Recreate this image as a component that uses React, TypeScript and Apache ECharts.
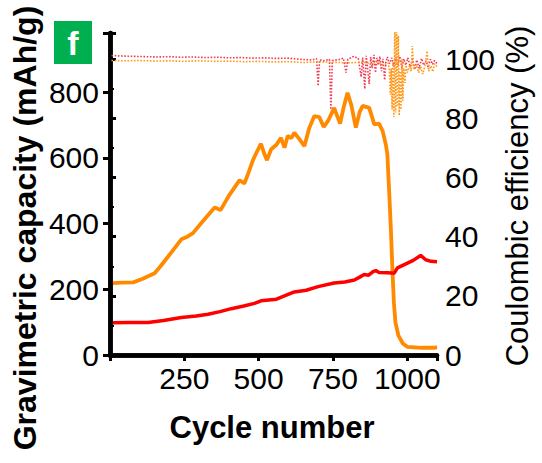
import React, { useEffect, useRef } from "react";
import * as echarts from "echarts";

// Capacity (mAh/g) vs cycle number
const orangeCap: [number, number][] = [
  [10, 219], [40, 220], [78, 221], [110, 232], [150, 249], [170, 270], [200, 305], [240, 352],
  [260, 360], [279, 371], [310, 405], [352, 449], [372, 441], [400, 485], [436, 532], [452, 522],
  [466, 555], [480, 591], [495, 620], [508, 643], [520, 610], [528, 593], [542, 626], [560, 640],
  [575, 661], [587, 631], [598, 667], [610, 660], [620, 677], [637, 657], [654, 636], [670, 690],
  [687, 727], [704, 724], [719, 694], [735, 715], [754, 752], [774, 704], [785, 750], [799, 798],
  [812, 760], [827, 692], [840, 740], [850, 758], [872, 752], [889, 702], [905, 704], [917, 682],
  [928, 640], [933, 611], [940, 480], [945, 380], [950, 260], [955, 160], [960, 100], [970, 60],
  [985, 35], [1000, 25], [1050, 22], [1090, 22], [1100, 24],
];

const redCap: [number, number][] = [
  [10, 98], [60, 99], [128, 99], [180, 105], [240, 114], [290, 119], [330, 124], [370, 132],
  [408, 141], [450, 149], [486, 157], [508, 165], [560, 170], [620, 192], [660, 197], [700, 208],
  [754, 219], [790, 222], [822, 228], [840, 237], [855, 245], [870, 243], [885, 254], [894, 257],
  [905, 251], [935, 250], [956, 249], [967, 265], [990, 275], [1020, 288], [1045, 303], [1062, 290],
  [1080, 285], [1100, 284],
];

// Coulombic efficiency (%) vs cycle number
const redCE: [number, number][] = [
  [5, 101.3], [40, 101.1], [80, 101.0], [120, 100.9], [160, 100.8], [200, 100.9], [240, 100.7],
  [280, 100.8], [320, 100.6], [360, 100.7], [400, 100.5], [440, 100.6], [480, 100.4], [520, 100.5],
  [560, 100.3], [600, 100.4], [640, 100.0], [680, 99.8], [695, 100.2], [700, 91.0], [705, 99.8],
  [720, 99.5], [738, 100.0], [743, 83.0], [748, 99.6], [770, 99.9], [785, 100.4], [794, 95.5],
  [800, 100.0], [820, 101.0], [835, 100.3], [845, 94.0], [850, 100.6], [857, 90.0], [862, 101.2],
  [867, 96.5], [872, 91.7], [877, 100.8], [882, 97.0], [888, 101.5], [893, 95.5], [898, 100.5],
  [903, 98.0], [908, 101.0], [913, 96.0], [918, 100.2], [924, 93.0], [928, 99.0], [933, 100.8],
  [940, 98.5], [948, 100.5], [955, 97.5], [962, 100.8], [968, 98.0], [975, 101.0], [982, 97.0],
  [988, 100.2], [995, 98.0], [1002, 100.5], [1010, 97.5], [1018, 100.0], [1025, 96.5], [1032, 99.8],
  [1040, 97.0], [1048, 100.3], [1055, 98.0], [1063, 99.5], [1070, 97.2], [1078, 100.0], [1085, 98.3],
  [1092, 99.6], [1100, 98.5],
];

const orangeCE: [number, number][] = [
  [5, 99.6], [50, 99.5], [100, 99.6], [150, 99.4], [200, 99.5], [250, 99.3], [300, 99.5], [350, 99.3],
  [400, 99.4], [450, 99.2], [500, 99.3], [550, 99.1], [600, 99.2], [650, 98.9], [700, 99.2], [750, 99.0],
  [800, 98.8], [850, 99.0], [880, 98.5], [900, 99.2], [920, 98.0], [936, 98.8], [940, 96.0], [943, 88.0],
  [946, 97.0], [949, 83.0], [952, 99.0], [955, 80.5], [958, 112.0], [961, 82.0], [964, 112.0],
  [967, 84.0], [970, 108.0], [973, 81.0], [976, 96.0], [979, 83.0], [982, 100.0], [985, 86.0],
  [988, 97.0], [992, 92.0], [996, 98.0], [1000, 95.5], [1008, 98.0], [1013, 96.0],
  [1017, 104.5], [1022, 96.5], [1030, 98.2], [1038, 95.5], [1045, 97.5], [1052, 95.0], [1060, 98.0],
  [1067, 102.8], [1072, 96.0], [1080, 97.8], [1086, 95.8], [1092, 98.5], [1100, 97.5],
];

const xTicks = [250, 500, 750, 1000];
const capTicks = [0, 200, 400, 600, 800];
const ceTicks = [0, 20, 40, 60, 80, 100];

const FONT = "Arial, 'Liberation Sans', Helvetica, sans-serif";

export default function App() {
  const ref = useRef<HTMLDivElement>(null);
  useEffect(() => {
    if (!ref.current) return;
    const chart = echarts.init(ref.current, undefined, { renderer: "svg" });
    const axisLine = { show: true, lineStyle: { color: "#000", width: 4.5 } };
    const labelStyle = { color: "#000", fontSize: 30, fontFamily: FONT };
    chart.setOption({
      animation: false,
      backgroundColor: "#fff",
      grid: { left: 110, right: 105, top: 33, bottom: 108, containLabel: false },
      xAxis: [
        {
          type: "value", position: "bottom", min: 0, max: 1100, interval: 250,
          axisLine, splitLine: { show: false },
          axisTick: { show: true, length: 6, lineStyle: { width: 3, color: "#000" } },
          axisLabel: { ...labelStyle, margin: 8, formatter: (v: number) => (xTicks.includes(v) ? String(v) : "") },
        },
        {
          type: "value", position: "top", min: 0, max: 1100, interval: 250,
          axisLine, splitLine: { show: false },
          axisTick: { show: true, inside: true, length: 6, lineStyle: { width: 3, color: "#000" } },
          axisLabel: { show: false },
        },
      ],
      yAxis: [
        {
          type: "value", position: "left", min: 0, max: 980, interval: 200,
          axisLine, splitLine: { show: false },
          axisTick: { show: true, length: 7, lineStyle: { width: 3, color: "#000" } },
          axisLabel: { ...labelStyle, margin: 11, formatter: (v: number) => (capTicks.includes(v) ? String(v) : "") },
        },
        {
          type: "value", position: "right", min: 0, max: 108.9, interval: 20,
          axisLine, splitLine: { show: false },
          axisTick: { show: true, length: 6, lineStyle: { width: 3, color: "#000" } },
          minorTick: { show: true, splitNumber: 2, length: 4, lineStyle: { width: 2, color: "#000" } },
          axisLabel: { ...labelStyle, margin: 8, formatter: (v: number) => (ceTicks.includes(v) ? String(v) : "") },
        },
      ],
      series: [
        {
          type: "line", xAxisIndex: 0, yAxisIndex: 1, data: redCE, showSymbol: false, symbol: "none",
          lineStyle: { color: "#F03C55", width: 1.6, type: "dotted" }, z: 2,
        },
        {
          type: "line", xAxisIndex: 0, yAxisIndex: 1, data: orangeCE, showSymbol: false, symbol: "none",
          lineStyle: { color: "#FF9818", width: 1.6, type: "dotted" }, z: 3,
        },
        {
          type: "line", xAxisIndex: 0, yAxisIndex: 0, data: orangeCap, showSymbol: false, symbol: "none",
          lineStyle: { color: "#FF8A00", width: 3.8 }, z: 4,
        },
        {
          type: "line", xAxisIndex: 0, yAxisIndex: 0, data: redCap, showSymbol: false, symbol: "none",
          lineStyle: { color: "#FF0000", width: 3.5 }, z: 5,
        },
      ],
      graphic: [
        { type: "rect", left: 54, top: 21, shape: { width: 38, height: 43 }, style: { fill: "#00B050" } },
        {
          type: "text", x: 73, y: 43,
          style: { text: "f", fill: "#fff", font: `bold 34px ${FONT}`, textAlign: "center", textVerticalAlign: "middle" },
        },
        {
          type: "text", x: 25, y: 228, rotation: Math.PI / 2,
          style: { text: "Gravimetric capacity (mAh/g)", fill: "#000", font: `bold 32px ${FONT}`, textAlign: "center", textVerticalAlign: "middle" },
        },
        {
          type: "text", x: 272, y: 427,
          style: { text: "Cycle number", fill: "#000", font: `bold 31px ${FONT}`, textAlign: "center", textVerticalAlign: "middle" },
        },
        {
          type: "text", x: 517, y: 196, rotation: Math.PI / 2,
          style: { text: "Coulombic efficiency (%)", fill: "#000", font: `31px ${FONT}`, textAlign: "center", textVerticalAlign: "middle" },
        },
      ],
    });
    return () => chart.dispose();
  }, []);
  return <div ref={ref} style={{ width: 542, height: 463, position: "absolute", left: 0, top: 0 }} />;
}
